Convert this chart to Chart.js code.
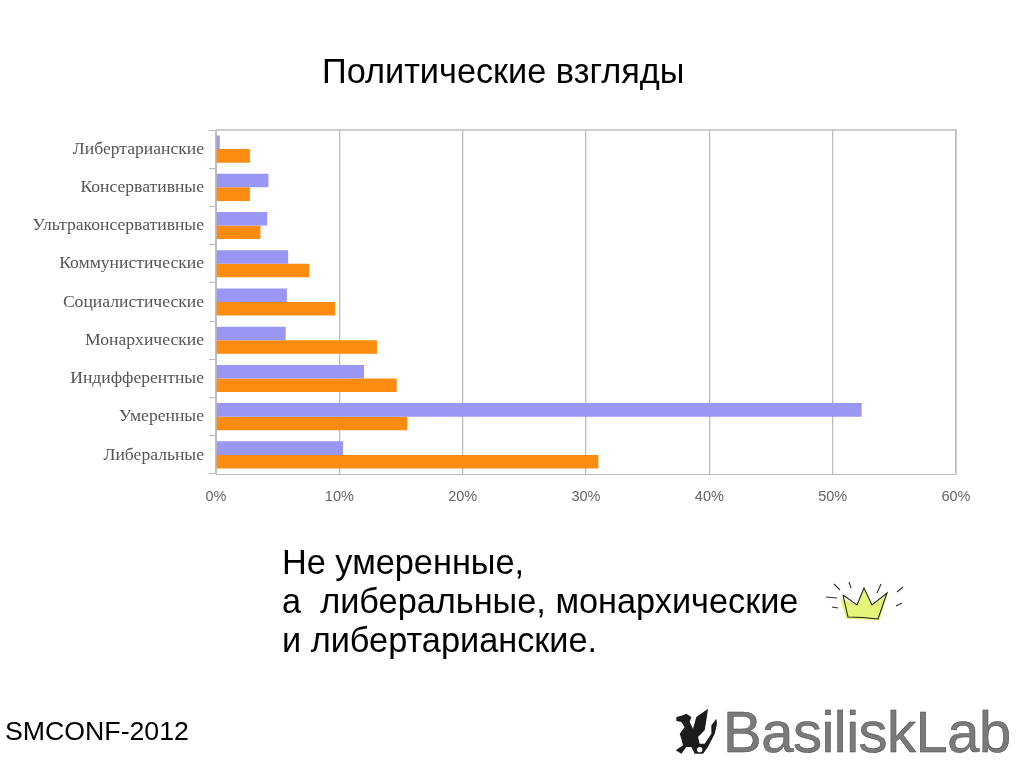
<!DOCTYPE html>
<html lang="ru">
<head>
<meta charset="utf-8">
<title>Политические взгляды</title>
<script src="https://cdn.jsdelivr.net/npm/chart.js@4"></script>
<style>
  html, body { margin: 0; padding: 0; background: #fff; }
  body { width: 1023px; height: 767px; position: relative; overflow: hidden; font-family: "Liberation Sans", Arial, sans-serif; color: #000; }
  #chart { position: absolute; left: 0; top: 0; }
  .txt { position: absolute; white-space: nowrap; }
  #title { left: 322px; top: 52px; font-size: 34.3px; line-height: 38px; }
  #note { left: 282px; top: 543px; font-size: 34.3px; line-height: 39.2px; white-space: pre; }
  #conf { left: 5px; top: 716px; font-size: 26.7px; line-height: 30px; }
  #logo { left: 723px; top: 699px; font-size: 58px; line-height: 66px; color: #7a7a7a; -webkit-text-stroke: 0.5px #444; letter-spacing: -0.5px; }
  svg { position: absolute; }
</style>
</head>
<body>
<canvas id="chart" width="1023" height="767"></canvas>

<div class="txt" id="title">Политические взгляды</div>
<div class="txt" id="note">Не умеренные,
а  либеральные, монархические
и либертарианские.</div>
<div class="txt" id="conf">SMCONF-2012</div>
<div class="txt" id="logo">BasiliskLab</div>

<!-- crown -->
<svg style="left:820px;top:578px" width="90" height="50" viewBox="0 0 90 50">
  <path d="M20 20 L37 27 L44 8 L52 27 L68 13 L60 42 L26 41 Z" fill="#e6f57a" stroke="none"/>
  <path d="M23 17 L28 39 Q42 39 58 41 L67 15 L52 27 L44 10 L37 27 L23 17" fill="none" stroke="#222" stroke-width="1.1"/>
  <path d="M6 19 L17 20 M12 29 L18 30 M14 6 L20 12 M29 4 L31 10 M61 6 L57 15 M83 9 L77 14 M82 25 L76 28" fill="none" stroke="#333" stroke-width="1.1"/>
</svg>

<!-- dragon -->
<svg style="left:673.3px;top:706.7px" width="46.7" height="50" viewBox="100 410 140 150">
  <path d="M110 440 L130 435 L140 430 L155 440 L150 455 L160 475 L170 440 L205 415 L200 450 L195 480 L175 500 L180 520 L195 520 L215 490 L215 465 L230 445 L232 460 L225 490 L205 530 L190 550 L165 550 L155 530 L140 530 L125 550 L108 540 L130 525 L125 505 L120 490 L135 470 L125 455 L110 452 Z" fill="#1c1c1c"/>
  <circle cx="180" cy="538" r="8" fill="#fff"/>
</svg>

<script>
const categories = ["Либертарианские", "Консервативные", "Ультраконсервативные", "Коммунистические", "Социалистические", "Монархические", "Индифферентные", "Умеренные", "Либеральные"];
const purpleValues = [0.3, 4.25, 4.15, 5.85, 5.75, 5.65, 12.0, 52.35, 10.3];
const orangeValues = [2.75, 2.75, 3.6, 7.55, 9.65, 13.05, 14.65, 15.5, 31.0];
const xTicks = [0, 10, 20, 30, 40, 50, 60];

const ctx = document.getElementById("chart").getContext("2d");

new Chart(ctx, {
  type: "bar",
  data: {
    labels: categories,
    datasets: [
      { label: "A", data: purpleValues, backgroundColor: "#9a96f4", categoryPercentage: 0.71, barPercentage: 1 },
      { label: "B", data: orangeValues, backgroundColor: "#fb8c11", categoryPercentage: 0.71, barPercentage: 1 }
    ]
  },
  options: {
    indexAxis: "y",
    responsive: false,
    animation: false,
    layout: { padding: { top: 130, right: 67, left: 0, bottom: 0 } },
    plugins: { legend: { display: false }, tooltip: { enabled: false } },
    scales: {
      x: {
        min: 0,
        max: 60,
        afterFit: (axis) => { axis.height = 293; },
        afterBuildTicks: (axis) => { axis.ticks = xTicks.map(v => ({ value: v })); },
        grid: { color: "#bdbdbd", lineWidth: 1.3, drawTicks: false },
        border: { color: "#bdbdbd" },
        ticks: {
          callback: (v) => v + "%",
          color: "#666",
          padding: 14,
          maxRotation: 0,
          font: { family: "Liberation Sans", size: 14.5 }
        }
      },
      y: {
        afterFit: (axis) => { axis.width = 216; },
        grid: { drawOnChartArea: false, color: "#bdbdbd", tickLength: 7 },
        border: { color: "#bdbdbd" },
        ticks: {
          color: "#555",
          padding: 5,
          autoSkip: false,
          font: { family: "Liberation Serif", size: 17.6 }
        }
      }
    }
  },
  plugins: [{
    // top and right frame of the plot
    id: "frame",
    afterDraw(chart) {
      const a = chart.chartArea, c = chart.ctx;
      c.save();
      c.strokeStyle = "#bdbdbd";
      c.lineWidth = 1.3;
      c.beginPath();
      c.moveTo(a.left, a.top);
      c.lineTo(a.right, a.top);
      c.lineTo(a.right, a.bottom);
      c.stroke();
      c.restore();
    }
  }]
});
</script>
</body>
</html>
